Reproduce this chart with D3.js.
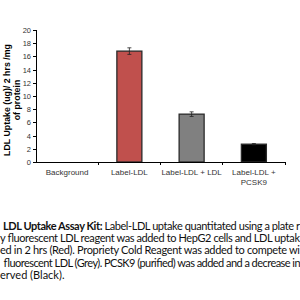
<!DOCTYPE html>
<html lang="en">
<head>
<meta charset="UTF-8">
<title>LDL Uptake Assay</title>
<script src="https://d3js.org/d3.v7.min.js"></script>
<style>
    body { margin: 0; background: #fff; }
    .axis path, .axis line { stroke: #000; shape-rendering: crispEdges; }
    .xlab { font: 8px Arial, "Liberation Sans", sans-serif; fill: #333; }
    .ylab { font: bold 8.8px Arial, "Liberation Sans", sans-serif; fill: #000; }
    .cap { font: 11px Lato, "Open Sans", sans-serif; fill: #111; }
</style>
</head>
<body>
<script>
// chart data
const categories = ["Background", "Label-LDL", "Label-LDL + LDL", "Label-LDL + PCSK9"];
const values = [0, 16.8, 7.25, 2.7];
const errors = [0, 0.5, 0.35, 0.1];
const colors = [null, "#c0504d", "#808080", "#000000"];
const yTicks = [0, 2, 4, 6, 8, 10, 12, 14, 16, 18, 20];
const captionLines = [
    ["LDL Uptake Assay Kit:", " Label-LDL uptake quantitated using a plate r"],
    ["", "y fluorescent LDL reagent was added to HepG2 cells and LDL uptak"],
    ["", "ed in 2 hrs (Red). Propriety Cold Reagent was added to compete wi"],
    ["", "fluorescent LDL (Grey). PCSK9 (purified) was added and a decrease in"],
    ["", "erved (Black)."]
];

const svg = d3.select("body").append("svg")
    .attr("width", 300)
    .attr("height", 300);

const plotL = 36, plotR = 285, plotT = 30, plotB = 162;

const x = d3.scaleBand().domain(categories).range([plotL, plotR]).padding(0);
const y = d3.scaleLinear().domain([0, 20]).range([plotB, plotT]);
const barW = 25;

// bars
svg.selectAll(".bar")
    .data(categories.filter((c, i) => values[i] > 0))
    .enter()
    .append("rect")
    .attr("x", c => x(c) + x.bandwidth() / 2 - barW / 2)
    .attr("y", c => y(values[categories.indexOf(c)]))
    .attr("width", barW)
    .attr("height", c => y(0) - y(values[categories.indexOf(c)]))
    .attr("fill", c => colors[categories.indexOf(c)])
    .attr("stroke", "#2a2a2a")
    .attr("stroke-width", 1.3);

// error bars
categories.forEach((c, i) => {
    if (!errors[i]) return;
    const cx = x(c) + x.bandwidth() / 2;
    const g = svg.append("g").attr("stroke", "#222").attr("stroke-width", 0.8);
    g.append("line").attr("x1", cx).attr("x2", cx)
        .attr("y1", y(values[i] + errors[i])).attr("y2", y(values[i] - errors[i]));
    [values[i] + errors[i], values[i] - errors[i]].forEach(v => {
        g.append("line").attr("x1", cx - 2).attr("x2", cx + 2).attr("y1", y(v)).attr("y2", y(v));
    });
});

// y axis
svg.append("g").attr("class", "axis")
    .attr("transform", `translate(${plotL},0)`)
    .call(d3.axisLeft(y).tickValues(yTicks).tickSize(3).tickPadding(2))
    .call(g => g.select(".domain").attr("d", `M0,${plotT}V${plotB}`))
    .call(g => g.selectAll("text")
        .attr("font-size", 7.5)
        .attr("font-family", "Arial, 'Liberation Sans', sans-serif")
        .attr("fill", "#333"));

// x axis with ticks at band boundaries
const xAxis = svg.append("g").attr("class", "axis");
xAxis.append("line").attr("x1", plotL).attr("x2", plotR).attr("y1", plotB).attr("y2", plotB);
categories.forEach(c => {
    const bx = x(c) + x.bandwidth();
    xAxis.append("line").attr("x1", bx).attr("x2", bx).attr("y1", plotB).attr("y2", plotB + 3);
});

// category labels
categories.forEach(c => {
    const t = svg.append("text").attr("class", "xlab")
        .attr("text-anchor", "middle")
        .attr("x", x(c) + x.bandwidth() / 2)
        .attr("y", 175);
    const parts = c === "Label-LDL + PCSK9" ? ["Label-LDL +", "PCSK9"] : [c];
    parts.forEach((p, k) => t.append("tspan")
        .attr("x", x(c) + x.bandwidth() / 2)
        .attr("dy", k === 0 ? 0 : 10).text(p));
});

// y label
const yl = svg.append("text").attr("class", "ylab")
    .attr("text-anchor", "middle")
    .attr("transform", "translate(10,100) rotate(-90)");
yl.append("tspan").attr("x", 0).attr("y", 0).text("LDL Uptake (ug)/ 2 hrs /mg");
yl.append("tspan").attr("x", 0).attr("y", 10).text("of protein");

// caption
const capX = [3, 0, 0, 3, 0];
captionLines.forEach((ln, i) => {
    const t = svg.append("text").attr("class", "cap")
        .attr("x", capX[i]).attr("y", 230 + i * 12.2);
    if (i < 4) t.attr("textLength", 300 - capX[i]).attr("lengthAdjust", "spacing");
    if (ln[0]) t.append("tspan").attr("font-weight", "bold").text(ln[0]);
    t.append("tspan").text(ln[1]);
});
</script>
</body>
</html>
